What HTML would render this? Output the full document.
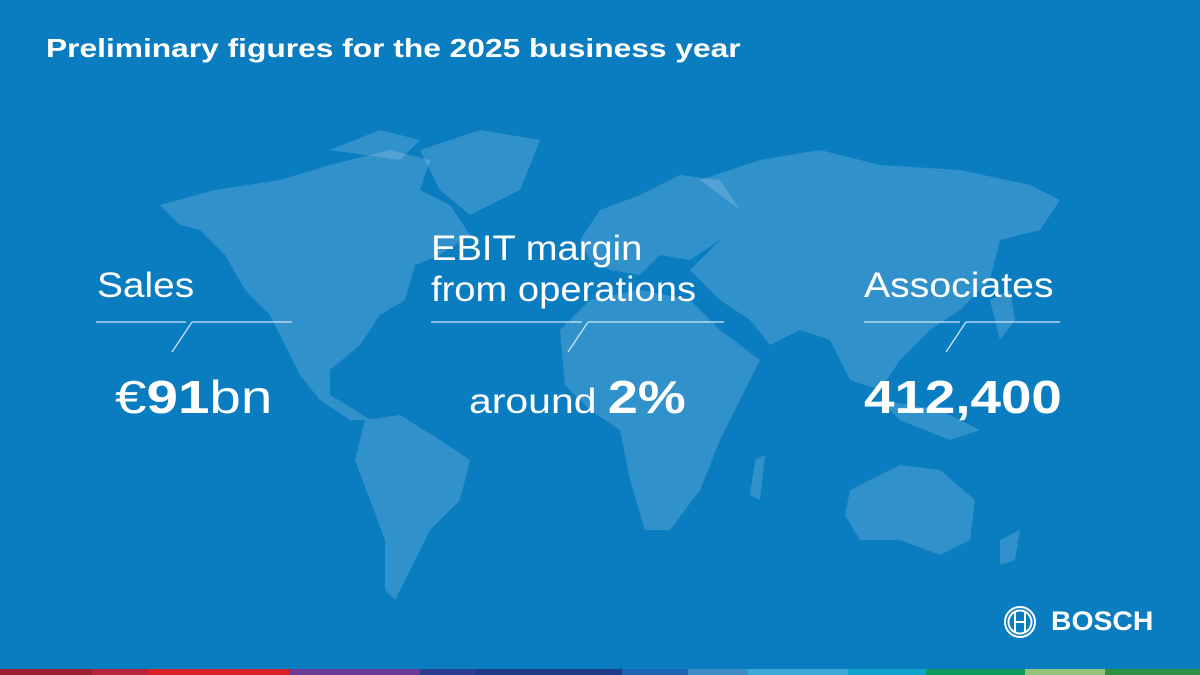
<!DOCTYPE html>
<html><head><meta charset="utf-8"><style>
html,body{margin:0;padding:0}
body{width:1200px;height:675px;background:#0a7dc1;position:relative;overflow:hidden;font-family:"Liberation Sans",sans-serif;color:#fff}
.t{position:absolute;white-space:nowrap;transform-origin:0 0}
</style></head><body>
<svg width="1200" height="675" style="position:absolute;left:0;top:0">
<g fill="#ffffff" fill-opacity="0.16">
<path d="M160,205 L215,190 L280,180 L330,165 L390,150 L430,160 L420,190 L450,205 L470,235 L440,255 L415,265 L405,300 L380,315 L360,345 L330,370 L330,395 L355,410 L370,420 L350,420 L320,400 L300,375 L285,345 L270,315 L245,290 L225,255 L200,230 L180,225 Z"/>
<path d="M330,150 L380,130 L420,140 L400,160 Z"/>
<path d="M420,150 L480,130 L540,140 L520,190 L470,215 L440,190 Z"/>
<path d="M365,420 L400,415 L440,440 L470,460 L460,500 L430,530 L410,570 L395,600 L385,590 L385,540 L370,500 L355,460 Z"/>
<path d="M580,240 L600,210 L640,195 L680,175 L720,180 L740,210 L720,240 L690,260 L660,255 L640,275 L610,270 L590,260 Z"/>
<path d="M560,330 L590,300 L640,290 L690,300 L720,330 L760,360 L740,400 L720,440 L700,490 L670,530 L645,530 L630,480 L620,430 L590,410 L565,385 Z"/>
<path d="M755,460 L765,455 L760,500 L750,495 Z"/>
<path d="M700,180 L760,160 L820,150 L880,165 L960,170 L1030,185 L1060,200 L1040,230 L1000,240 L990,280 L960,310 L930,330 L900,360 L880,390 L850,380 L830,340 L800,330 L770,345 L750,320 L720,300 L690,270 L720,240 L740,210 Z"/>
<path d="M990,300 L1010,290 L1015,320 L1000,340 Z"/>
<path d="M880,400 L940,410 L980,430 L950,440 L900,420 Z"/>
<path d="M850,490 L900,465 L940,470 L975,500 L970,540 L940,555 L900,540 L860,540 L845,515 Z"/>
<path d="M1000,540 L1020,530 L1015,560 L1000,565 Z"/>
</g>
<g stroke="#cfe6f5" stroke-width="1.3" fill="none">
<path d="M96,322 H186 M192,322 H292 M192,322 L172,352"/>
<path d="M431,322 H582 M588,322 H724 M588,322 L568,352"/>
<path d="M864,322 H960 M966,322 H1060 M966,322 L946,352"/>
</g>
<g>
<rect x="0" y="669" width="92" height="6" fill="#9b1f2e"/>
<rect x="92" y="669" width="56" height="6" fill="#b7243a"/>
<rect x="148" y="669" width="142" height="6" fill="#d71f26"/>
<rect x="290" y="669" width="130" height="6" fill="#6b3a94"/>
<rect x="420" y="669" width="55" height="6" fill="#2c3d8f"/>
<rect x="475" y="669" width="147" height="6" fill="#1f3a86"/>
<rect x="622" y="669" width="66" height="6" fill="#1e63b0"/>
<rect x="688" y="669" width="60" height="6" fill="#3d8cc8"/>
<rect x="748" y="669" width="100" height="6" fill="#3ea8d9"/>
<rect x="848" y="669" width="78" height="6" fill="#10a3d0"/>
<rect x="926" y="669" width="99" height="6" fill="#0c9b5d"/>
<rect x="1025" y="669" width="80" height="6" fill="#93c47a"/>
<rect x="1105" y="669" width="95" height="6" fill="#2f8f43"/>
</g>
<g stroke="#fff" fill="none" stroke-width="2">
<circle cx="1020" cy="622" r="15"/>
<circle cx="1020" cy="622" r="11.5"/>
<path d="M1015,612 V632 M1025,612 V632 M1015,622 H1025"/>
</g>
</svg>
<div class="t" style="left:46px;top:33px;font-size:26px;font-weight:bold;transform:scaleX(1.22)">Preliminary figures for the 2025 business year</div>
<div class="t" style="left:97px;top:266px;font-size:35px;transform:scaleX(1.11)">Sales</div>
<div class="t" style="left:431px;top:228px;font-size:35px;line-height:41px;transform:scaleX(1.09)">EBIT margin<br>from operations</div>
<div class="t" style="left:864px;top:266px;font-size:35px;transform:scaleX(1.12)">Associates</div>
<div class="t" style="left:115px;top:370px;font-size:46px;transform:scaleX(1.23)">€<b>91</b>bn</div>
<div class="t" style="left:469px;top:370px;font-size:46px;transform:scaleX(1.17)"><span style="font-size:35px">around </span><b>2%</b></div>
<div class="t" style="left:864px;top:370px;font-size:46px;font-weight:bold;transform:scaleX(1.19)">412,400</div>
<div class="t" style="left:1051px;top:606px;font-size:27px;font-weight:bold;transform:scaleX(1.05)">BOSCH</div>
</body></html>
